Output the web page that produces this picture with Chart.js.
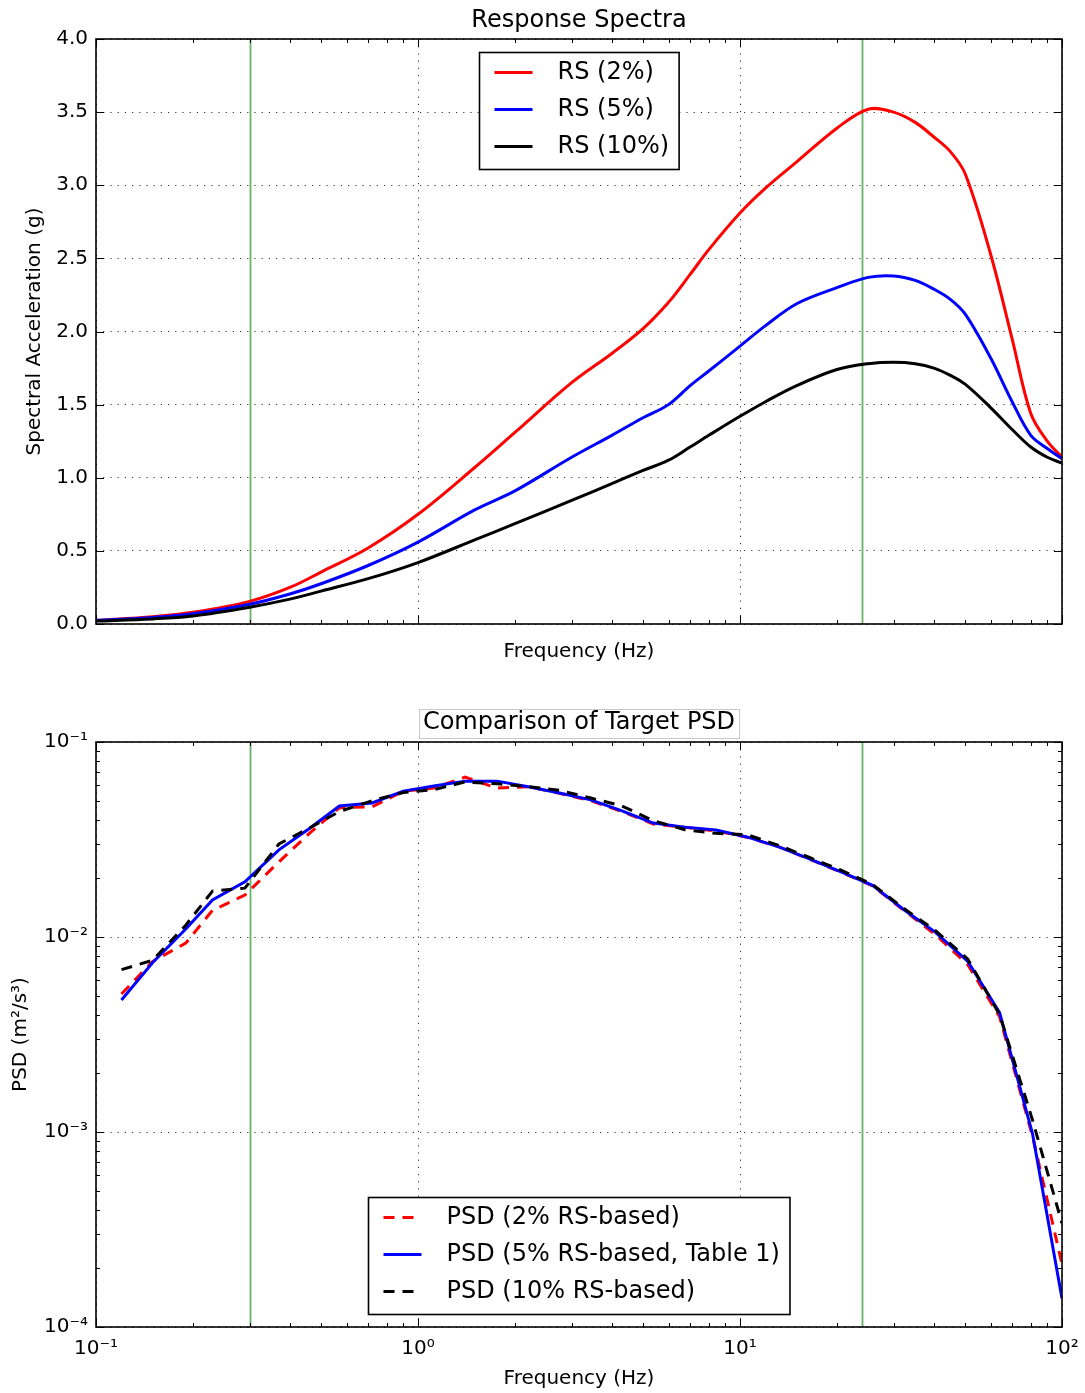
<!DOCTYPE html>
<html>
<head>
<meta charset="utf-8">
<script src="https://cdn.jsdelivr.net/npm/chart.js@4.4.1/dist/chart.umd.min.js"></script>
<style>
    html, body { margin: 0; padding: 0; background: #fff; }
    #pagina { position: relative; width: 1085px; height: 1393px; }
    .painel { position: absolute; left: 0; width: 1085px; }
    #painelRS { top: 0; height: 680px; }
    #painelPSD { top: 680px; height: 713px; }
</style>
</head>
<body>
<div id="pagina">
    <div class="painel" id="painelRS"><canvas id="graficoRS"></canvas></div>
    <div class="painel" id="painelPSD"><canvas id="graficoPSD"></canvas></div>
</div>
<script>
// espectros de resposta (g) para 2%, 5% e 10% de amortecimento
const freqRS = [0.1, 0.15, 0.2, 0.3, 0.4, 0.5, 0.7, 1, 1.5, 2, 3, 4, 5, 6, 7, 8, 10, 12, 15, 20, 25, 30, 35, 40, 45, 50, 60, 70, 80, 90, 100]
const rs2 = [0.025, 0.05, 0.08, 0.155, 0.25, 0.355, 0.52, 0.75, 1.07, 1.31, 1.65, 1.85, 2.02, 2.2, 2.39, 2.56, 2.81, 2.98, 3.16, 3.39, 3.52, 3.5, 3.43, 3.33, 3.23, 3.08, 2.53, 1.95, 1.44, 1.25, 1.14]
const rs5 = [0.025, 0.045, 0.07, 0.135, 0.205, 0.275, 0.4, 0.56, 0.78, 0.91, 1.14, 1.29, 1.41, 1.5, 1.63, 1.73, 1.9, 2.04, 2.19, 2.3, 2.37, 2.38, 2.35, 2.29, 2.22, 2.12, 1.82, 1.52, 1.29, 1.2, 1.13]
const rs10 = [0.02, 0.035, 0.055, 0.115, 0.17, 0.225, 0.31, 0.42, 0.575, 0.686, 0.845, 0.96, 1.05, 1.12, 1.21, 1.29, 1.42, 1.52, 1.63, 1.74, 1.78, 1.79, 1.78, 1.75, 1.7, 1.64, 1.48, 1.33, 1.21, 1.14, 1.1]

// PSD alvo (m²/s³) obtida de cada espectro
const freqPSD = [0.12, 0.15, 0.19, 0.23, 0.29, 0.37, 0.46, 0.57, 0.72, 0.9, 1.12, 1.4, 1.76, 2.2, 2.75, 3.44, 4.3, 5.38, 6.73, 8.42, 10.5, 13.2, 16.5, 20.6, 25.8, 32.3, 40.4, 51, 64, 81, 100]
const psd2 = [0.0051, 0.0075, 0.0093, 0.0137, 0.0164, 0.0243, 0.034, 0.046, 0.0465, 0.056, 0.058, 0.066, 0.058, 0.059, 0.0545, 0.05, 0.044, 0.038, 0.0365, 0.035, 0.0325, 0.029, 0.025, 0.0215, 0.0183, 0.0137, 0.0103, 0.0072, 0.0039, 0.00095, 0.00021]
const psd5 = [0.00475, 0.0074, 0.011, 0.0155, 0.0192, 0.028, 0.036, 0.047, 0.0487, 0.056, 0.0595, 0.063, 0.063, 0.059, 0.0547, 0.0505, 0.0443, 0.0384, 0.0366, 0.0354, 0.0326, 0.029, 0.0251, 0.0216, 0.0184, 0.0138, 0.0106, 0.0075, 0.0041, 0.00098, 0.00014]
const psd10 = [0.0068, 0.0076, 0.0115, 0.0172, 0.0178, 0.03, 0.0362, 0.044, 0.05, 0.055, 0.057, 0.0624, 0.061, 0.059, 0.0565, 0.0516, 0.047, 0.0395, 0.0355, 0.034, 0.0335, 0.0295, 0.0255, 0.022, 0.0186, 0.014, 0.0108, 0.0077, 0.004, 0.00115, 0.00034]

// frequências marcadas com linha vertical
const freqMarcadas = [0.3, 24]

Chart.defaults.font.family = '"DejaVu Sans", sans-serif'
Chart.defaults.font.size = 20
Chart.defaults.color = '#000'

const corGrade = 'rgba(0,0,0,0.8)'
const pontilhado = [1.2, 6]

function sobrescrito(n) {
    const mapa = {'-': '\u207B', '0': '\u2070', '1': '\u00B9', '2': '\u00B2', '3': '\u00B3', '4': '\u2074', '5': '\u2075'}
    return String(n).split('').map(c => mapa[c]).join('')
}

function rotuloLog(v) {
    return '10' + sobrescrito(Math.round(Math.log10(v)))
}

function decadas(scale) {
    let lista = []
    for (let e = Math.round(Math.log10(scale.min)); e <= Math.round(Math.log10(scale.max)); e++) {
        lista.push({value: Math.pow(10, e)})
    }
    scale.ticks = lista
}

function pares(xs, ys) {
    return xs.map((x, i) => ({x: x, y: ys[i]}))
}

// posições dos tracinhos internos (maiores e menores) de um eixo
function marcasEixo(scale) {
    let maiores = []
    let menores = []
    if (scale.type === 'logarithmic') {
        for (let e = Math.round(Math.log10(scale.min)); e <= Math.round(Math.log10(scale.max)); e++) {
            let d = Math.pow(10, e)
            maiores.push(d)
            if (d < scale.max) {
                for (let k = 2; k < 10; k++) menores.push(k * d)
            }
        }
    } else {
        maiores = scale.ticks.map(t => t.value)
    }
    return {maiores, menores}
}

// moldura, tracinhos, linhas verdes, título e legenda com caixa
const decoracao = {
    id: 'decoracao',
    beforeDatasetsDraw(chart, args, opts) {
        const {ctx, chartArea: a, scales: {x}} = chart
        ctx.save()
        ctx.strokeStyle = 'rgba(0,128,0,0.6)'
        ctx.lineWidth = 1.8
        for (let f of freqMarcadas) {
            let px = Math.round(x.getPixelForValue(f)) + 0.5
            ctx.beginPath()
            ctx.moveTo(px, a.top)
            ctx.lineTo(px, a.bottom)
            ctx.stroke()
        }
        ctx.restore()
    },
    afterDraw(chart, args, opts) {
        const {ctx, chartArea: a, scales: {x, y}} = chart
        ctx.save()

        // tracinhos voltados para dentro, nos quatro lados
        ctx.strokeStyle = '#000'
        ctx.lineWidth = 1
        let mx = marcasEixo(x)
        let my = marcasEixo(y)
        const riscoX = (v, len) => {
            let px = Math.round(x.getPixelForValue(v)) + 0.5
            ctx.beginPath()
            ctx.moveTo(px, a.bottom); ctx.lineTo(px, a.bottom - len)
            ctx.moveTo(px, a.top); ctx.lineTo(px, a.top + len)
            ctx.stroke()
        }
        const riscoY = (v, len) => {
            let py = Math.round(y.getPixelForValue(v)) + 0.5
            ctx.beginPath()
            ctx.moveTo(a.left, py); ctx.lineTo(a.left + len, py)
            ctx.moveTo(a.right, py); ctx.lineTo(a.right - len, py)
            ctx.stroke()
        }
        mx.maiores.forEach(v => riscoX(v, 8))
        mx.menores.forEach(v => riscoX(v, 4))
        my.maiores.forEach(v => riscoY(v, 8))
        my.menores.forEach(v => riscoY(v, 4))

        ctx.lineWidth = 1.6
        ctx.strokeRect(a.left, a.top, a.right - a.left, a.bottom - a.top)

        // título sobre a área do gráfico
        let cx = (a.left + a.right) / 2
        ctx.font = '24px "DejaVu Sans"'
        ctx.fillStyle = '#000'
        ctx.textAlign = 'center'
        ctx.textBaseline = 'middle'
        ctx.fillText(opts.titulo, cx, opts.tituloY)
        if (opts.tituloCaixa) {
            let w = ctx.measureText(opts.titulo).width
            ctx.strokeStyle = '#c8c8c8'
            ctx.lineWidth = 1
            ctx.strokeRect(Math.round(cx - w / 2 - 4) + 0.5, Math.round(opts.tituloY - 14) + 0.5, Math.round(w + 8), 29)
        }

        // legenda
        const ds = chart.data.datasets
        let larguraTexto = Math.max(...ds.map(d => ctx.measureText(d.label).width))
        let lw = 15 + 38 + 25 + larguraTexto + 10
        let lh = 117
        let lx = Math.round(cx - lw / 2) + 0.5
        let ly = Math.round(opts.legenda === 'acima' ? a.top + 13 : a.bottom - 13 - lh) + 0.5
        ctx.fillStyle = '#fff'
        ctx.fillRect(lx, ly, lw, lh)
        ctx.strokeStyle = '#000'
        ctx.lineWidth = 1.6
        ctx.strokeRect(lx, ly, lw, lh)
        ds.forEach((d, i) => {
            let yy = ly + 20 + 37 * i
            ctx.strokeStyle = d.borderColor
            ctx.lineWidth = d.borderWidth
            ctx.setLineDash(d.borderDash || [])
            ctx.beginPath()
            ctx.moveTo(lx + 15, yy)
            ctx.lineTo(lx + 53, yy)
            ctx.stroke()
            ctx.setLineDash([])
            ctx.fillStyle = '#000'
            ctx.textAlign = 'left'
            ctx.fillText(d.label, lx + 78, yy)
        })
        ctx.restore()
    }
}

let ctxRS = document.getElementById('graficoRS').getContext('2d')
new Chart(ctxRS, {
    type: 'line',
    data: {
        datasets: [
            {label: 'RS (2%)', data: pares(freqRS, rs2), borderColor: '#ff0000', borderWidth: 3, order: 3},
            {label: 'RS (5%)', data: pares(freqRS, rs5), borderColor: '#0000ff', borderWidth: 3, order: 2},
            {label: 'RS (10%)', data: pares(freqRS, rs10), borderColor: '#000000', borderWidth: 3, order: 1}
        ]
    },
    options: {
        responsive: true,
        maintainAspectRatio: false,
        animation: false,
        events: [],
        layout: {padding: {top: 39, right: 23, left: 0, bottom: 0}},
        elements: {
            point: {radius: 0},
            line: {tension: 0.35, fill: false}
        },
        scales: {
            x: {
                type: 'logarithmic',
                min: 0.1,
                max: 100,
                afterBuildTicks: decadas,
                afterFit: s => { s.height = 56; s.paddingLeft = 0; s.paddingRight = 0 },
                ticks: {display: false},
                grid: {color: corGrade, lineWidth: 1, drawTicks: false},
                border: {display: false, dash: pontilhado},
                title: {display: true, text: 'Frequency (Hz)', padding: {top: 0, bottom: 16}}
            },
            y: {
                min: 0,
                max: 4,
                afterFit: s => { s.width = 96 },
                ticks: {stepSize: 0.5, padding: 8, callback: v => v.toFixed(1)},
                grid: {color: corGrade, lineWidth: 1, drawTicks: false},
                border: {display: false, dash: pontilhado},
                title: {display: true, text: 'Spectral Acceleration (g)', padding: {top: 23, bottom: 0}}
            }
        },
        plugins: {
            legend: {display: false},
            tooltip: {enabled: false},
            decoracao: {titulo: 'Response Spectra', tituloY: 21, tituloCaixa: false, legenda: 'acima'}
        }
    },
    plugins: [decoracao]
})

let ctxPSD = document.getElementById('graficoPSD').getContext('2d')
new Chart(ctxPSD, {
    type: 'line',
    data: {
        datasets: [
            {label: 'PSD (2% RS\u2010based)', data: pares(freqPSD, psd2), borderColor: '#ff0000', borderWidth: 3, borderDash: [11, 8], order: 3},
            {label: 'PSD (5% RS\u2010based, Table 1)', data: pares(freqPSD, psd5), borderColor: '#0000ff', borderWidth: 3, order: 2},
            {label: 'PSD (10% RS\u2010based)', data: pares(freqPSD, psd10), borderColor: '#000000', borderWidth: 3, borderDash: [11, 8], order: 1}
        ]
    },
    options: {
        responsive: true,
        maintainAspectRatio: false,
        animation: false,
        events: [],
        layout: {padding: {top: 62, right: 23, left: 0, bottom: 0}},
        elements: {
            point: {radius: 0},
            line: {tension: 0, fill: false}
        },
        scales: {
            x: {
                type: 'logarithmic',
                min: 0.1,
                max: 100,
                afterBuildTicks: decadas,
                afterFit: s => { s.height = 66; s.paddingLeft = 0; s.paddingRight = 0 },
                ticks: {padding: 10, maxRotation: 0, autoSkip: false, callback: rotuloLog},
                grid: {color: corGrade, lineWidth: 1, drawTicks: false},
                border: {display: false, dash: pontilhado},
                title: {display: true, text: 'Frequency (Hz)', padding: {top: 0, bottom: 2}}
            },
            y: {
                type: 'logarithmic',
                min: 0.0001,
                max: 0.1,
                afterBuildTicks: decadas,
                afterFit: s => { s.width = 96 },
                ticks: {padding: 8, autoSkip: false, callback: rotuloLog},
                grid: {color: corGrade, lineWidth: 1, drawTicks: false},
                border: {display: false, dash: pontilhado},
                title: {display: true, text: 'PSD (m\u00B2/s\u00B3)', padding: {top: 9, bottom: 0}}
            }
        },
        plugins: {
            legend: {display: false},
            tooltip: {enabled: false},
            decoracao: {titulo: 'Comparison of Target PSD', tituloY: 43, tituloCaixa: true, legenda: 'abaixo'}
        }
    },
    plugins: [decoracao]
})
</script>
</body>
</html>
